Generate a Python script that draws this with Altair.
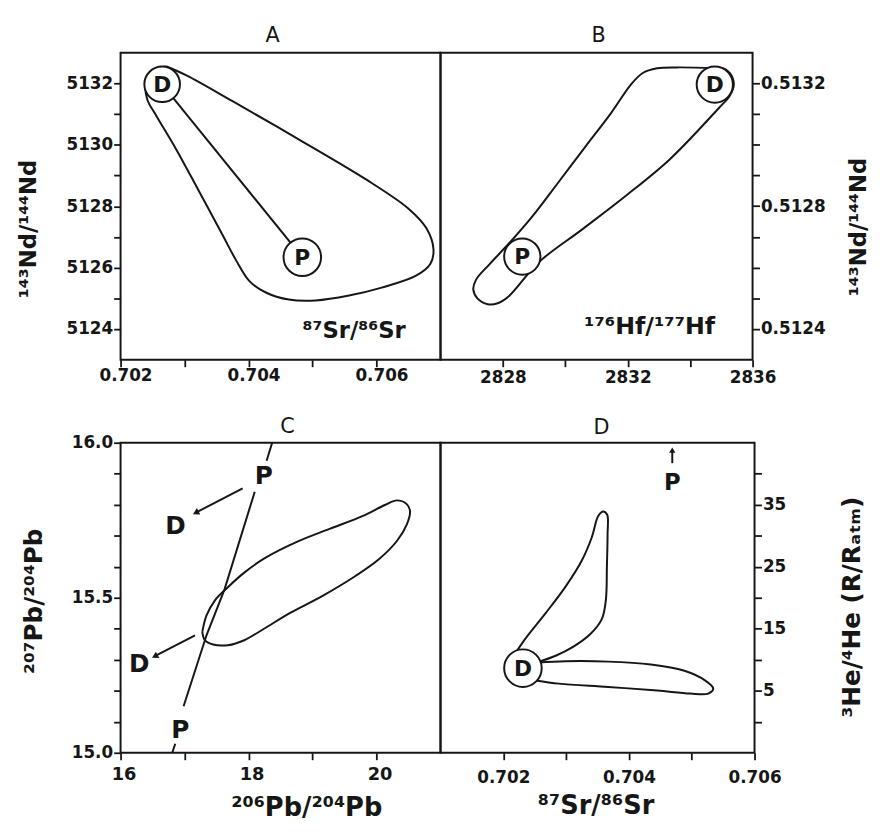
import altair as alt
import pandas as pd

FONT = "DejaVu Sans"
INK = "#161616"
WEIGHT = "bold"

# ---------------- Panel A : 143Nd/144Nd vs 87Sr/86Sr ----------------
a_env_sr = [0.70272, 0.70303, 0.70375, 0.70479, 0.70583, 0.70650, 0.70678, 0.70689,
            0.70684, 0.70661, 0.70608, 0.70557, 0.70505, 0.70463, 0.70427, 0.70401,
            0.70381, 0.70359, 0.70323, 0.70287, 0.70256, 0.70242, 0.70239, 0.70245,
            0.70258, 0.70272]
a_env_nd = [5132.55, 5132.26, 5131.42, 5130.17, 5128.88, 5127.92, 5127.28, 5126.60,
            5126.12, 5125.73, 5125.35, 5125.09, 5124.93, 5124.96, 5125.19, 5125.57,
            5126.22, 5127.08, 5128.47, 5129.85, 5130.94, 5131.46, 5131.91, 5132.26,
            5132.49, 5132.55]
a_end_sr = [0.70265, 0.70484]
a_end_nd = [5131.97, 5126.34]
a_end_lab = ["D", "P"]
a_note_sr = [0.70565]
a_note_nd = [5123.95]
a_note_txt = ["⁸⁷Sr/⁸⁶Sr"]
a_xdom = [0.702, 0.707]
a_ydom = [5123, 5133]
a_xtick = [0.702, 0.703, 0.704, 0.705, 0.706]
a_ytick = [5124, 5125, 5126, 5127, 5128, 5129, 5130, 5131, 5132]

# ---------------- Panel B : 143Nd/144Nd vs 176Hf/177Hf ----------------
b_env_hf = [2834.84, 2833.57, 2832.94, 2832.47, 2832.10, 2831.47, 2830.62, 2829.78,
            2828.93, 2828.25, 2827.56, 2827.14, 2827.05, 2827.19, 2827.51, 2827.83,
            2828.19, 2829.14, 2830.52, 2831.89, 2833.36, 2834.95, 2835.26, 2835.40,
            2835.28, 2835.05, 2834.84]
b_env_nd = [0.513249, 0.513252, 0.513249, 0.513233, 0.513196, 0.513104, 0.512991, 0.512878,
            0.512765, 0.512685, 0.512610, 0.512561, 0.512529, 0.512499, 0.512481, 0.512484,
            0.512507, 0.512617, 0.512723, 0.512830, 0.512954, 0.513123, 0.513158, 0.513196,
            0.513233, 0.513249, 0.513249]
b_end_hf = [2834.79, 2828.62]
b_end_nd = [0.513196, 0.512636]
b_end_lab = ["D", "P"]
b_note_hf = [2832.7]
b_note_nd = [0.51241]
b_note_txt = ["¹⁷⁶Hf/¹⁷⁷Hf"]
b_xdom = [2826, 2836]
b_ydom = [0.5123, 0.5133]
b_xtick = [2828, 2830, 2832, 2834, 2836]
b_ytick = [0.5124, 0.5125, 0.5126, 0.5127, 0.5128, 0.5129, 0.5130, 0.5131, 0.5132]

# ---------------- Panel C : 207Pb/204Pb vs 206Pb/204Pb ----------------
c_env_206 = [17.277, 17.343, 17.472, 17.677, 17.933, 18.241, 18.754, 19.266, 19.779,
             20.138, 20.318, 20.472, 20.523, 20.472, 20.318, 20.036, 19.677, 19.164,
             18.651, 18.241, 17.933, 17.677, 17.446, 17.318, 17.277]
c_env_207 = [15.390, 15.443, 15.491, 15.534, 15.581, 15.626, 15.680, 15.722, 15.763,
             15.800, 15.814, 15.802, 15.779, 15.736, 15.683, 15.624, 15.571, 15.507,
             15.451, 15.400, 15.363, 15.347, 15.349, 15.363, 15.390]
c_pp_206 = [18.369, 18.282, 18.097, 17.626, 17.343, 16.985, 16.854, 16.808]
c_pp_207 = [16.000, 15.942, 15.842, 15.528, 15.379, 15.150, 15.029, 15.000]
c_pp_seg = [1, 1, 2, 2, 2, 2, 3, 3]
c_arrow_206 = [17.908, 17.190, 17.164, 16.550]
c_arrow_207 = [15.853, 15.776, 15.379, 15.313]
c_arrow_id = [1, 1, 2, 2]
c_head_206 = [17.175, 16.535]
c_head_207 = [15.774, 15.311]
c_lab_206 = [18.24, 16.857, 16.292, 16.934]
c_lab_207 = [15.896, 15.733, 15.289, 15.076]
c_lab_txt = ["P", "D", "D", "P"]
c_xdom = [16, 21]
c_ydom = [15.0, 16.0]
c_xtick = [16, 17, 18, 19, 20]
c_ytick = [15.0, 15.1, 15.2, 15.3, 15.4, 15.5, 15.6, 15.7, 15.8, 15.9, 16.0]

# ---------------- Panel D : 3He/4He vs 87Sr/86Sr ----------------
d_up_sr = [0.702181, 0.702364, 0.702677, 0.702991, 0.703252, 0.703409, 0.703513, 0.703591,
           0.703654, 0.703660, 0.703649, 0.703633, 0.703566, 0.703382, 0.703096, 0.702834,
           0.702547]
d_up_he = [10.92, 13.58, 17.56, 21.80, 26.05, 29.76, 33.22, 33.90,
           33.38, 30.30, 24.98, 19.68, 16.50, 14.11, 11.99, 10.65, 9.60]
d_lo_sr = [0.702550, 0.702991, 0.703669, 0.704349, 0.704871, 0.705211, 0.705342, 0.705263,
           0.704976, 0.704453, 0.703669, 0.702886, 0.702520]
d_lo_he = [9.55, 9.76, 9.70, 9.22, 8.26, 6.67, 5.35, 4.55, 4.55, 5.03, 5.62, 6.15, 6.67]
d_end_sr = [0.702312]
d_end_he = [8.65]
d_end_lab = ["D"]
d_arrow_sr = [0.70469, 0.70469]
d_arrow_he = [41.7, 43.8]
d_p_sr = [0.70469]
d_p_he = [38.6]
d_xdom = [0.701, 0.706]
d_ydom = [-5, 45]
d_xtick = [0.702, 0.703, 0.704, 0.705, 0.706]
d_ytick = [0, 5, 10, 15, 20, 25, 30, 35, 40]

TICK = 7
LW = 2


def ptitle(txt, dx, offset=7):
    return alt.TitleParams(txt, fontSize=21, font=FONT, fontWeight="normal", color=INK,
                           anchor="middle", dx=dx, offset=offset, frame="group")


def seq(xs, ys, groups=None):
    d = pd.DataFrame({"x": xs, "y": ys, "i": list(range(len(xs)))})
    if groups is not None:
        d["g"] = groups
    return d


def line_layer(df, interp="linear", group=None, width=LW):
    def f(X, Y):
        enc = dict(x=X("x"), y=Y("y"), order=alt.Order("i:Q"))
        if group:
            enc["detail"] = alt.Detail(group + ":N")
        return alt.Chart(df).mark_line(color=INK, strokeWidth=width, interpolate=interp).encode(**enc)
    return f


def build(W, H, xdom, ydom, xax, yax, layers, title):
    xs = alt.Scale(domain=xdom, nice=False, zero=False)
    ys = alt.Scale(domain=ydom, nice=False, zero=False)
    X = lambda f: alt.X(f, type="quantitative", scale=xs, axis=xax)
    Y = lambda f: alt.Y(f, type="quantitative", scale=ys, axis=yax)
    parts = [fn(X, Y) for fn in layers]
    return alt.layer(*parts).properties(width=W, height=H, title=title)


def circle_layer(df, size):
    def f(X, Y):
        return alt.Chart(df).mark_point(shape="circle", filled=True, fill="white", stroke=INK,
                                        strokeWidth=LW, opacity=1, size=size).encode(x=X("x"), y=Y("y"))
    return f


def text_layer(df, fs, dy=1):
    def f(X, Y):
        return alt.Chart(df).mark_text(font=FONT, fontSize=fs, color=INK, align="center",
                                       baseline="middle", dy=dy, fontWeight=WEIGHT).encode(
            x=X("x"), y=Y("y"), text="t:N")
    return f


def head_layer(df, ang, size=55):
    def f(X, Y):
        return alt.Chart(df).mark_point(shape="triangle-up", filled=True, color=INK, opacity=1,
                                        size=size, angle=ang).encode(x=X("x"), y=Y("y"))
    return f


# axis ticks at every tick value; only the labelled subset keeps its text
def axis(vals, fmt, show, orient, pad, fs=17, title=None, **kw):
    return alt.Axis(values=vals, format=fmt, orient=orient, labelExpr=show + " ? datum.label : ''",
                    ticks=True, tickSize=TICK, tickWidth=1.8, tickColor=INK,
                    labelPadding=pad, labelFontSize=fs, title=title, **kw)


def yaxis(vals, fmt, show, orient, pad, title, tx, ty, fs=17, tfs=23):
    return axis(vals, fmt, show, orient, pad, fs, title, titleFontSize=tfs, titleAngle=270,
                titleX=tx, titleY=ty, titleAlign="center", titleBaseline="middle")


# ---- Panel A
pA = build(
    324, 311, a_xdom, a_ydom,
    axis(a_xtick, ".3f", "round(datum.value*1000) % 2 == 0", "bottom", 1, labelOffset=5),
    yaxis(a_ytick, "d", "datum.value % 2 == 0", "left", 1, "¹⁴³Nd/¹⁴⁴Nd", -93, 178),
    [
        line_layer(seq(a_env_sr, a_env_nd), "catmull-rom"),
        line_layer(seq(a_end_sr, a_end_nd)),
        circle_layer(pd.DataFrame({"x": a_end_sr[:1], "y": a_end_nd[:1]}), 1300),
        circle_layer(pd.DataFrame({"x": a_end_sr[1:], "y": a_end_nd[1:]}), 1444),
        text_layer(pd.DataFrame({"x": a_end_sr, "y": a_end_nd, "t": a_end_lab}), 22),
        text_layer(pd.DataFrame({"x": a_note_sr, "y": a_note_nd, "t": a_note_txt}), 23),
    ],
    ptitle("A", -8),
)

# ---- Panel B
pB = build(
    316, 311, b_xdom, b_ydom,
    axis(b_xtick, "d", "datum.value % 4 == 0", "bottom", 3),
    yaxis(b_ytick, ".4f", "round(datum.value*10000) % 4 == 0", "right", 1, "¹⁴³Nd/¹⁴⁴Nd",
          107, 176),
    [
        line_layer(seq(b_env_hf, b_env_nd), "catmull-rom"),
        circle_layer(pd.DataFrame({"x": b_end_hf, "y": b_end_nd}), 1350),
        text_layer(pd.DataFrame({"x": b_end_hf, "y": b_end_nd, "t": b_end_lab}), 22),
        text_layer(pd.DataFrame({"x": b_note_hf, "y": b_note_nd, "t": b_note_txt}), 24),
    ],
    ptitle("B", 2),
)

# ---- Panel C
pC = build(
    324, 314, c_xdom, c_ydom,
    axis(c_xtick, "d", "datum.value % 2 == 0", "bottom", 6, fs=18, title="²⁰⁶Pb/²⁰⁴Pb",
         titleFontSize=26, titleX=188, titleY=56, titleAlign="center", titleBaseline="middle",
         labelOffset=3),
    yaxis(c_ytick, ".1f", "round(datum.value*10) % 5 == 0", "left", 1, "²⁰⁷Pb/²⁰⁴Pb", -88, 160,
          tfs=25),
    [
        line_layer(seq(c_env_206, c_env_207), "catmull-rom"),
        line_layer(seq(c_pp_206, c_pp_207, c_pp_seg), "linear", "g"),
        line_layer(seq(c_arrow_206, c_arrow_207, c_arrow_id), "linear", "g"),
        head_layer(pd.DataFrame({"x": c_head_206, "y": c_head_207}), 242),
        text_layer(pd.DataFrame({"x": c_lab_206, "y": c_lab_207, "t": c_lab_txt}), 25),
    ],
    ptitle("C", 7, -3),
)

# ---- Panel D
pD = build(
    318, 314, d_xdom, d_ydom,
    axis(d_xtick, ".3f", "round(datum.value*1000) % 2 == 0", "bottom", 10, title="⁸⁷Sr/⁸⁶Sr",
         titleFontSize=26, titleX=157, titleY=53, titleAlign="center", titleBaseline="middle"),
    yaxis(d_ytick, "d", "datum.value % 10 == 5", "right", 1, "³He/⁴He     (R/Rₐₜₘ)", 98, 166,
          tfs=25),
    [
        line_layer(seq(d_up_sr, d_up_he), "catmull-rom"),
        line_layer(seq(d_lo_sr, d_lo_he), "catmull-rom"),
        line_layer(seq(d_arrow_sr, d_arrow_he)),
        head_layer(pd.DataFrame({"x": d_arrow_sr[1:], "y": d_arrow_he[1:]}), 0, 40),
        circle_layer(pd.DataFrame({"x": d_end_sr, "y": d_end_he}), 1444),
        text_layer(pd.DataFrame({"x": d_end_sr, "y": d_end_he, "t": d_end_lab}), 22),
        text_layer(pd.DataFrame({"x": d_p_sr, "y": d_p_he, "t": ["P"]}), 23),
    ],
    ptitle("D", 4, 5),
)

chart = alt.concat(
    pA, pB, pC, pD, columns=2, spacing={"row": 84, "column": 0}, bounds="flush"
).properties(
    padding={"left": 9, "top": 11, "right": 5, "bottom": 5}
).configure_view(
    stroke=INK, strokeWidth=2
).configure_axis(
    labelFont=FONT, titleFont=FONT, labelColor=INK, titleColor=INK, grid=False,
    domain=False, labelFlush=False, labelOverlap=False, titleFontWeight=WEIGHT,
    labelFontWeight=WEIGHT
)

chart.save("out.html", embed_options={"renderer": "svg", "actions": False})
